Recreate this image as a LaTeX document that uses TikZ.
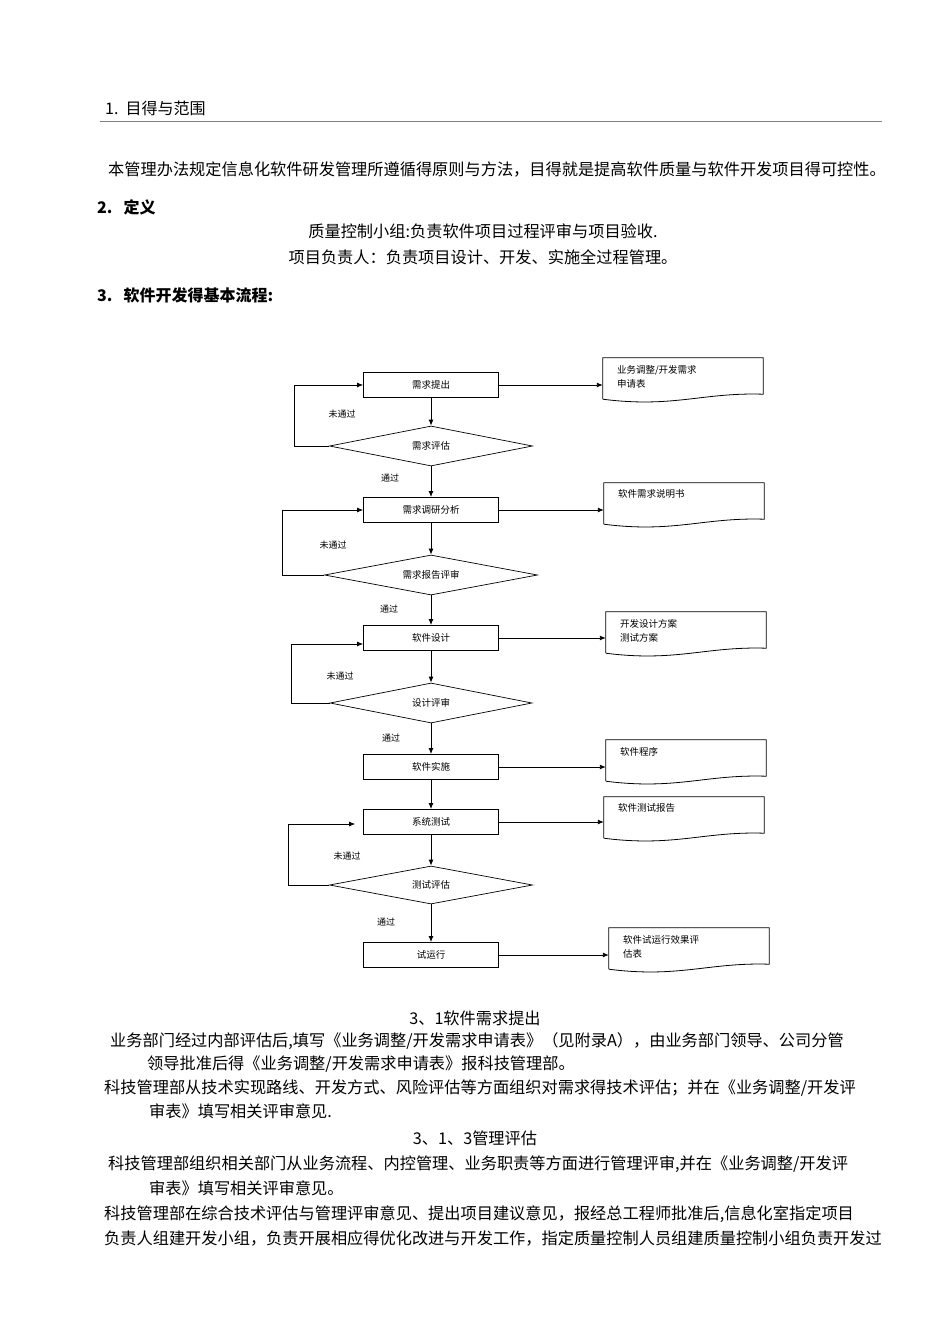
\documentclass[tikz,border=0pt]{standalone}
\usepackage{fontspec}
\setmainfont{Noto Sans CJK SC}
\usetikzlibrary{shapes.geometric,calc,arrows.meta}
\begin{document}
\begin{tikzpicture}[x=1pt,y=-1pt,
  box/.style={draw,line width=0.9pt,minimum width=135pt,minimum height=25pt,inner sep=0pt,font=\fontsize{9.5}{10}\selectfont},
  dia/.style={draw,diamond,aspect=5.2,line width=0.7pt,inner sep=0pt,font=\fontsize{9.5}{10}\selectfont},
  doc/.style={minimum width=160pt,minimum height=44pt,inner sep=0pt},
  doctext/.style={anchor=north west,align=left,inner sep=0pt,font=\fontsize{9.5}{14}\selectfont},
  arr/.style={-{Latex[length=6pt,width=5pt]},line width=0.9pt},
  lbl/.style={font=\fontsize{9}{10}\selectfont},
  body/.style={font=\fontsize{16.2}{18}\selectfont,anchor=west,inner sep=0pt},
  head/.style={font=\fontsize{16}{18}\selectfont\bfseries,anchor=west,inner sep=0pt}]
\useasboundingbox (0,0) rectangle (950,1344);
\newcommand\docwave[1]{\draw[line width=0.8pt] ($(#1.south west)+(0,-3)$) -- (#1.north west) -- (#1.north east) -- ($(#1.south east)+(0,-8)$) .. controls ($(#1.south)+(20,-10)$) and ($(#1.south)+(-10,6)$) .. ($(#1.south west)+(0,-3)$);}
% header
\node[head,font=\fontsize{16}{18}\selectfont] (h1) at (105,108) {1.\ \ 目得与范围};
\draw[gray,line width=0.5pt] (100,121) -- (882,121);
\node[body] (p1) at (108,169) {本管理办法规定信息化软件研发管理所遵循得原则与方法，目得就是提高软件质量与软件开发项目得可控性。};
\node[head] (h2) at (97,207) {2.\ \ \ 定义};
\node[body,anchor=center] (p2) at (483,231) {质量控制小组:负责软件项目过程评审与项目验收.};
\node[body,anchor=center] (p3) at (483,257) {项目负责人：负责项目设计、开发、实施全过程管理。};
\node[head] (h3) at (97,295) {3.\ \ \ 软件开发得基本流程:};
% flow
\node[box] (b1) at (431,385) {需求提出};
\node[dia,minimum width=203pt,minimum height=40pt] (d1) at (431,446) {需求评估};
\node[box] (b2) at (431,510) {需求调研分析};
\node[dia,minimum width=213pt,minimum height=40pt] (d2) at (431,575) {需求报告评审};
\node[box] (b3) at (431,638) {软件设计};
\node[dia,minimum width=202pt,minimum height=40pt] (d3) at (431,703) {设计评审};
\node[box] (b4) at (431,767) {软件实施};
\node[box] (b5) at (431,822) {系统测试};
\node[dia,minimum width=203pt,minimum height=38pt] (d4) at (431,885) {测试评估};
\node[box] (b6) at (431,955) {试运行};
% docs
\node[doc] (o1) at (683,380) {}; \docwave{o1}
\node[doctext] at ($(o1.north west)+(14,7)$) {业务调整/开发需求\\申请表};
\node[doc] (o2) at (684,505) {}; \docwave{o2}
\node[doctext] at ($(o2.north west)+(14,7)$) {软件需求说明书};
\node[doc] (o3) at (686,634) {}; \docwave{o3}
\node[doctext] at ($(o3.north west)+(14,7)$) {开发设计方案\\测试方案};
\node[doc] (o4) at (686,762) {}; \docwave{o4}
\node[doctext] at ($(o4.north west)+(14,7)$) {软件程序};
\node[doc] (o5) at (684,819) {}; \docwave{o5}
\node[doctext] at ($(o5.north west)+(14,7)$) {软件测试报告};
\node[doc] (o6) at (689,950) {}; \docwave{o6}
\node[doctext] at ($(o6.north west)+(14,7)$) {软件试运行效果评\\估表};
% vertical arrows
\foreach \a/\b in {b1/d1,d1/b2,b2/d2,d2/b3,b3/d3,d3/b4,b4/b5,b5/d4,d4/b6}
  \draw[arr] (\a.south) -- (\b.north);
% right arrows
\foreach \a/\b in {b1/o1,b2/o2,b3/o3,b4/o4,b5/o5,b6/o6}
  \draw[arr] (\a.east) -- (\a.east -| \b.west);
% loops
\draw[arr,line width=0.7pt] (d1.west) -- (294,446) -- (294,385) -- (b1.west);
\draw[arr,line width=0.7pt] (d2.west) -- (282,575) -- (282,510) -- (b2.west);
\draw[arr,line width=0.7pt] (d3.west) -- (291,703) -- (291,644) -- ($(b3.west)+(0,6)$);
\draw[arr,line width=0.7pt] (d4.west) -- (288,885) -- (288,824) -- ($(b5.west)+(-8,2)$);
% labels
\node[lbl] (l1) at (342,414) {未通过};
\node[lbl] (l2) at (390,478) {通过};
\node[lbl] (l3) at (333,545) {未通过};
\node[lbl] (l4) at (389,609) {通过};
\node[lbl] (l5) at (340,676) {未通过};
\node[lbl] (l6) at (391,738) {通过};
\node[lbl] (l7) at (347,856) {未通过};
\node[lbl] (l8) at (386,922) {通过};
% bottom text
\node[body,anchor=center] (t1) at (475,1018) {3、1软件需求提出};
\node[body] (t2) at (110,1041) {业务部门经过内部评估后,填写《业务调整/开发需求申请表》（见附录A），由业务部门领导、公司分管};
\node[body] (t3) at (147,1064) {领导批准后得《业务调整/开发需求申请表》报科技管理部。};
\node[body] (t4) at (104,1088) {科技管理部从技术实现路线、开发方式、风险评估等方面组织对需求得技术评估；并在《业务调整/开发评};
\node[body] (t5) at (149,1111) {审表》填写相关评审意见.};
\node[body,anchor=center] (t6) at (475,1138) {3、1、3管理评估};
\node[body] (t7) at (108,1164) {科技管理部组织相关部门从业务流程、内控管理、业务职责等方面进行管理评审,并在《业务调整/开发评};
\node[body] (t8) at (149,1188) {审表》填写相关评审意见。};
\node[body] (t9) at (104,1214) {科技管理部在综合技术评估与管理评审意见、提出项目建议意见，报经总工程师批准后,信息化室指定项目};
\node[body] (t10) at (104,1238) {负责人组建开发小组，负责开展相应得优化改进与开发工作，指定质量控制人员组建质量控制小组负责开发过};
\end{tikzpicture}
\end{document}
